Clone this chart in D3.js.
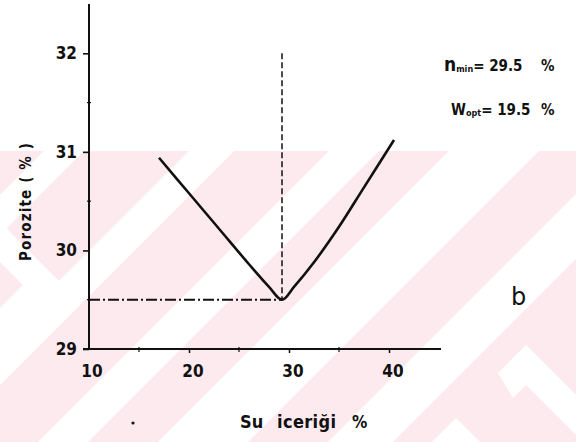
<!DOCTYPE html>
<html>
<head>
<meta charset="utf-8">
<script src="https://cdn.jsdelivr.net/npm/d3@7"></script>
<style>
  html, body { margin: 0; padding: 0; background: #fff; }
  svg { display: block; }
  .tick-label { font-family: "DejaVu Sans Condensed", "DejaVu Sans", sans-serif; font-weight: bold; font-size: 17px; fill: #111; }
  .axis-title { font-family: "DejaVu Sans Condensed", "DejaVu Sans", sans-serif; font-weight: bold; fill: #111; }
  .note { font-family: "DejaVu Sans Condensed", "DejaVu Sans", sans-serif; font-weight: bold; fill: #111; }
</style>
</head>
<body>
<div id="chart"></div>
<script>
// Porosity versus water content
const waterContent = [17.0, 20.0, 23.0, 26.0, 28.0, 29.3, 30.5, 32.5, 35.0, 37.5, 40.5];
const porosity     = [30.94, 30.58, 30.22, 29.86, 29.63, 29.50, 29.63, 29.88, 30.24, 30.64, 31.12];

// Minimum of the curve
const minWater = 29.3;
const minPorosity = 29.5;

const xTicks = [10, 20, 30, 40];
const xMinorTicks = [15, 25, 35];
const yTicks = [29, 30, 31, 32];
const yMinorTicks = [29.5, 30.5, 31.5];

const W = 576, H = 442;
const svg = d3.select("#chart").append("svg").attr("width", W).attr("height", H);

// Background watermark: pale pink field with white diagonal bands
const bg = svg.append("g");
const bandTop = 151;
svg.append("defs").append("clipPath").attr("id", "wm")
  .append("rect").attr("x", 0).attr("y", bandTop).attr("width", W).attr("height", H - bandTop);
bg.append("rect").attr("x", 0).attr("y", bandTop).attr("width", W).attr("height", H - bandTop)
  .attr("fill", "#fdeaee");
const wm = bg.append("g").attr("clip-path", "url(#wm)").attr("fill", "#fff");
const slashBands = [[195, 235], [340, 385], [480, 530], [600, 690], [770, 835]];
slashBands.forEach(([c1, c2]) => {
  wm.append("polygon").attr("points", [
    [c1 - bandTop, bandTop], [c2 - bandTop, bandTop], [c2 - H, H], [c1 - H, H]
  ].join(" "));
});
// chevron pieces
wm.append("polygon").attr("points", "0,222 63,285 0,348 0,308 23,285 0,262");
wm.append("polygon").attr("points", "432,442 456,418 480,442");
wm.append("polygon").attr("points", "526,345 590,409 590,449 526,385 513,398 498,373");

// Scales
const x = d3.scaleLinear().domain([10, 45.2]).range([89, 441]);
const y = d3.scaleLinear().domain([29, 32]).range([349, 53.3]);

// Axes
const yAxis = svg.append("g").attr("transform", `translate(${x(10)},0)`)
  .call(d3.axisLeft(y).tickValues(yTicks).tickSize(6).tickSizeOuter(0).tickFormat(""));
yAxis.select(".domain").remove();
yAxis.selectAll(".tick line").attr("stroke", "#111").attr("stroke-width", 1.6);
svg.append("line").attr("x1", x(10)).attr("x2", x(10)).attr("y1", y(32.5)).attr("y2", y(29) + 1)
  .attr("stroke", "#111").attr("stroke-width", 2);
svg.selectAll(".ytick-minor").data(yMinorTicks).enter().append("line")
  .attr("x1", x(10) - 2).attr("x2", x(10) + 2)
  .attr("y1", d => y(d)).attr("y2", d => y(d))
  .attr("stroke", "#111").attr("stroke-width", 1.2);
svg.selectAll(".ylab").data(yTicks).enter().append("text")
  .attr("class", "tick-label").attr("text-anchor", "end")
  .attr("x", 77).attr("y", d => y(d) + 6).text(d => d);

const xAxis = svg.append("g").attr("transform", `translate(0,${y(29)})`)
  .call(d3.axisBottom(x).tickValues(xTicks.slice(1)).tickSize(4).tickSizeOuter(0).tickFormat(""));
xAxis.select(".domain").remove();
xAxis.selectAll(".tick line").attr("stroke", "#111").attr("stroke-width", 1.5);
svg.append("line").attr("x1", x(10) - 6).attr("x2", x(45.2)).attr("y1", y(29)).attr("y2", y(29))
  .attr("stroke", "#111").attr("stroke-width", 2.2);
svg.selectAll(".xtick-minor").data(xMinorTicks).enter().append("line")
  .attr("x1", d => x(d)).attr("x2", d => x(d))
  .attr("y1", y(29) - 2).attr("y2", y(29) + 3)
  .attr("stroke", "#111").attr("stroke-width", 1.2);
svg.selectAll(".xlab").data(xTicks).enter().append("text")
  .attr("class", "tick-label").attr("text-anchor", "middle")
  .attr("x", d => x(d) + (d === 10 ? 3 : 4)).attr("y", y(29) + 28).text(d => d);

// Axis titles
svg.append("text").attr("class", "axis-title")
  .attr("transform", "translate(31,202) rotate(-90)")
  .attr("text-anchor", "middle").attr("font-size", 15)
  .attr("textLength", 118).attr("lengthAdjust", "spacing")
  .text("Porozite ( % )");
svg.append("text").attr("class", "axis-title").attr("font-size", 18)
  .attr("x", 240).attr("y", 428).text("Su");
svg.append("text").attr("class", "axis-title").attr("font-size", 18)
  .attr("x", 277).attr("y", 428).attr("textLength", 59).attr("lengthAdjust", "spacing").text("iceriği");
svg.append("text").attr("class", "axis-title").attr("font-size", 17)
  .attr("x", 352).attr("y", 428).text("%");
svg.append("circle").attr("cx", 133).attr("cy", 423).attr("r", 1.6).attr("fill", "#111");

// Reference lines through the minimum
svg.append("line")
  .attr("x1", x(minWater)).attr("x2", x(minWater))
  .attr("y1", y(32)).attr("y2", y(minPorosity))
  .attr("stroke", "#111").attr("stroke-width", 1.5).attr("stroke-dasharray", "6,3");
svg.append("line")
  .attr("x1", x(10)).attr("x2", x(minWater))
  .attr("y1", y(minPorosity)).attr("y2", y(minPorosity))
  .attr("stroke", "#111").attr("stroke-width", 2).attr("stroke-dasharray", "11,3,2,3");

// Porosity curve
const pts = waterContent.map((w, i) => [w, porosity[i]]);
svg.append("path").datum(pts)
  .attr("fill", "none").attr("stroke", "#111").attr("stroke-width", 2.6)
  .attr("stroke-linejoin", "round")
  .attr("d", d3.line().x(d => x(d[0])).y(d => y(d[1])).curve(d3.curveCatmullRom.alpha(0.5)));

// Annotations
const n1 = svg.append("text").attr("class", "note").attr("x", 444).attr("y", 71);
n1.append("tspan").attr("font-size", 19).text("n");
n1.append("tspan").attr("font-size", 9).attr("dy", 1).text("min");
n1.append("tspan").attr("font-size", 15).attr("dy", -1).text("= 29.5");
n1.append("tspan").attr("font-size", 15).attr("x", 541).text("%");

const n2 = svg.append("text").attr("class", "note").attr("x", 451).attr("y", 115);
n2.append("tspan").attr("font-size", 15).text("W");
n2.append("tspan").attr("font-size", 9).attr("dy", 1).text("opt");
n2.append("tspan").attr("font-size", 15).attr("dy", -1).text("= 19.5");
n2.append("tspan").attr("font-size", 15).attr("x", 541).text("%");

svg.append("text").attr("x", 511).attr("y", 305)
  .attr("font-family", "DejaVu Sans, sans-serif").attr("font-size", 24).attr("fill", "#111")
  .text("b");
</script>
</body>
</html>
